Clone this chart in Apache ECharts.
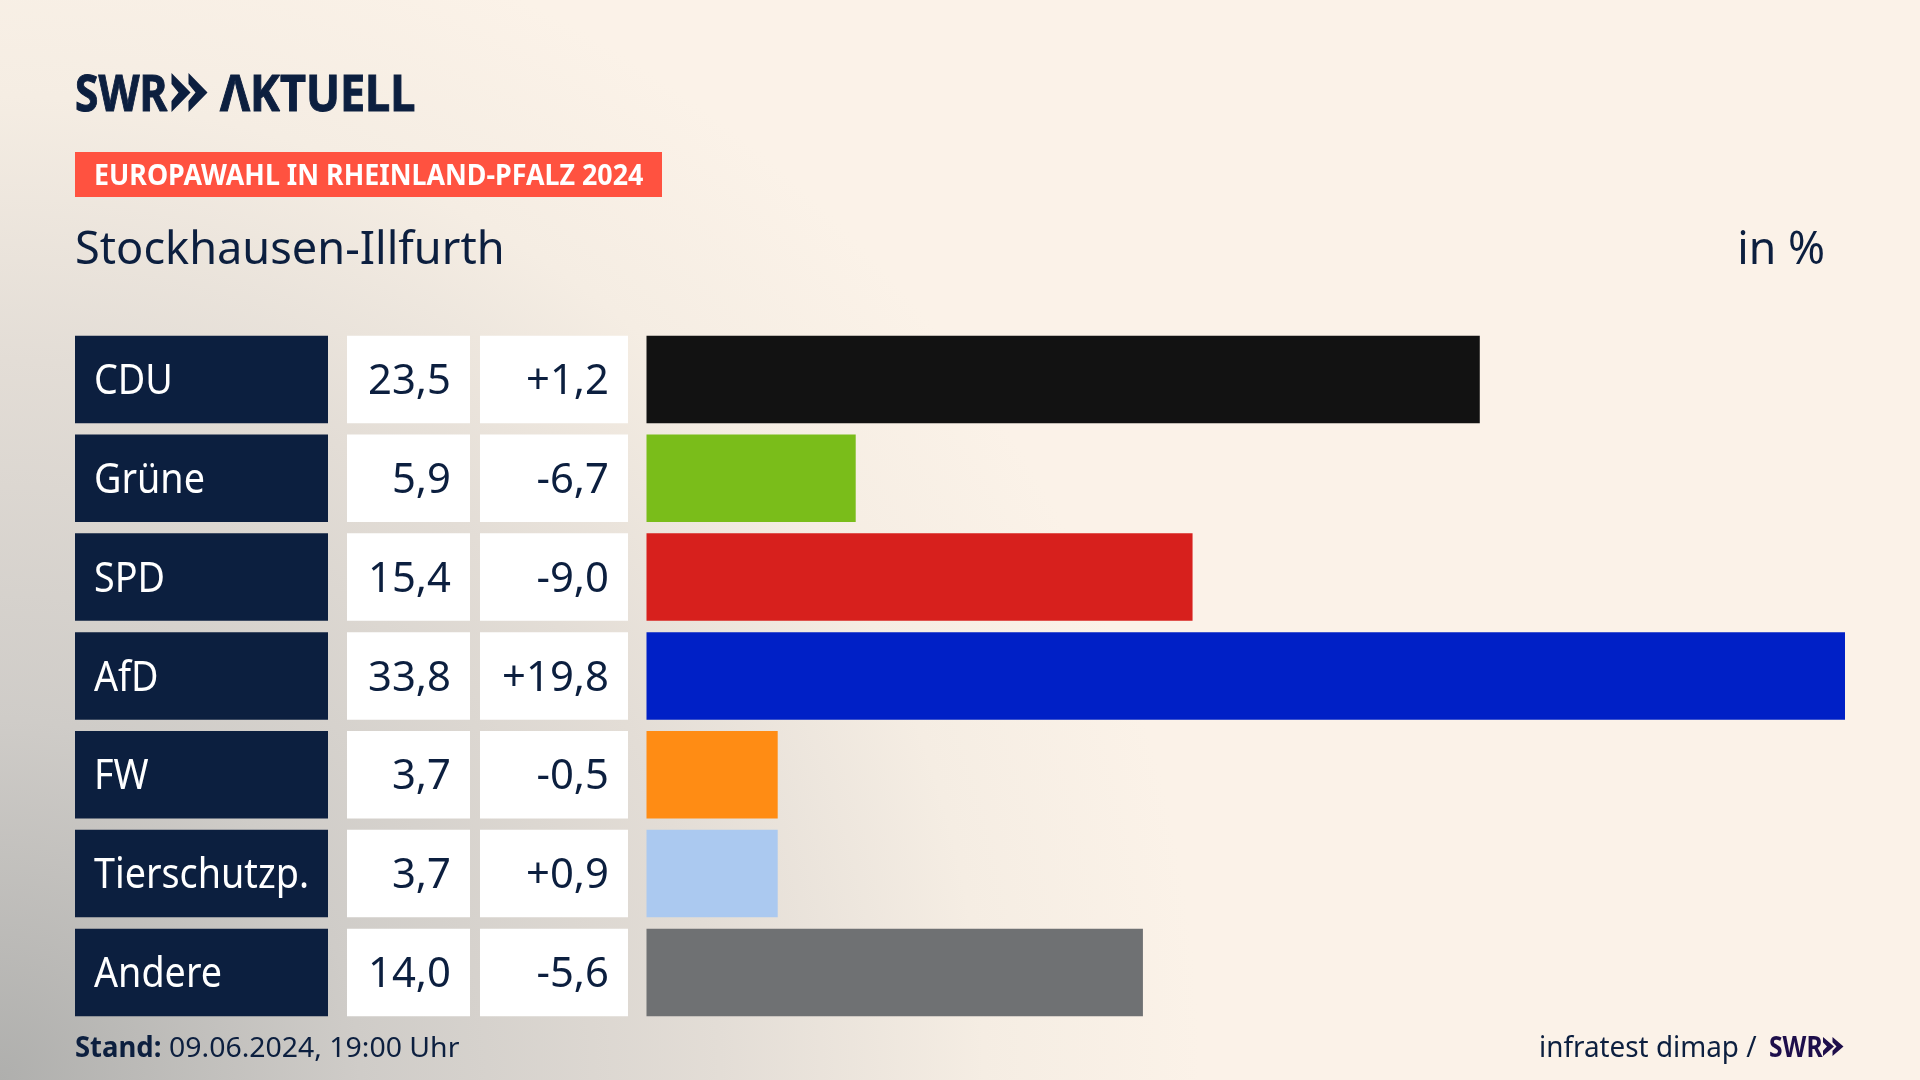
<!DOCTYPE html>
<html>
<head>
<meta charset="utf-8">
<title>Europawahl Stockhausen-Illfurth</title>
<style>
	html, body { margin: 0; padding: 0; width: 100%; height: 100%; overflow: hidden; background: #FBF2E8; }
	#chart { width: 1920px; height: 1080px; }
</style>
<script src="https://cdn.jsdelivr.net/npm/echarts@6/dist/echarts.min.js"></script>
</head>
<body>
<div id="chart"></div>
<script>
	var categories = ['CDU', 'Grüne', 'SPD', 'AfD', 'FW', 'Tierschutzp.', 'Andere'];
	var shares = [23.5, 5.9, 15.4, 33.8, 3.7, 3.7, 14.0];
	var changes = [1.2, -6.7, -9.0, 19.8, -0.5, 0.9, -5.6];
	var partyColors = ['#121212', '#7ABD1A', '#D7201D', '#0020C6', '#FF8C14', '#ABC9F0', '#6F7173'];

	var NAVY = '#0C1F3F';
	var PURPLE = '#1E0F4B';
	var FONT = "'Noto Sans'";
	var chart = echarts.init(document.getElementById('chart'));

	function comma(v) {
		return v.toFixed(1).replace('.', ',');
	}
	function signed(v) {
		return (v > 0 ? '+' : '') + comma(v);
	}

	// one table column: a rect per row with condensed text inside
	function columnSeries(gridIndex, texts, fill, color, align, scaleX) {
		return {
			type: 'custom',
			xAxisIndex: gridIndex,
			yAxisIndex: gridIndex,
			silent: true,
			data: texts.map(function (t, i) { return [0, i]; }),
			encode: { x: 0, y: 1 },
			renderItem: function (params, api) {
				var cs = params.coordSys;
				var cy = api.coord([0, api.value(1)])[1];
				var tx = align === 'left' ? cs.x + 19 : cs.x + cs.width - 19;
				return {
					type: 'group',
					children: [{
						type: 'rect',
						shape: { x: cs.x, y: cy - 43.75, width: cs.width, height: 87.5 },
						style: { fill: fill }
					}, {
						type: 'text',
						x: tx,
						y: cy + 3,
						scaleX: scaleX,
						style: {
							text: texts[params.dataIndex],
							font: '400 41px ' + FONT,
							fill: color,
							textAlign: align,
							verticalAlign: 'middle'
						}
					}]
				};
			}
		};
	}

	function chevron(x, y, w, h, n, color) {
		var mid = y + h / 2;
		return {
			type: 'polygon',
			shape: { points: [[x, y], [x + w, mid], [x, y + h], [x, y + h * 0.72], [x + n, mid], [x, y + h * 0.28]] },
			style: { fill: color }
		};
	}
	function label(text, x, y, font, color, scaleX, align) {
		return {
			type: 'text',
			x: x,
			y: y,
			scaleX: scaleX,
			style: { text: text, font: font, fill: color, textAlign: align || 'left', verticalAlign: 'middle' }
		};
	}

	var rowTop = 330, rowsHeight = 691.8;
	var columns = [[75, 253], [347, 123], [480, 148]];
	var grids = [], xAxes = [], yAxes = [];
	columns.concat([[646.5, 1198.5]]).forEach(function (c, i) {
		grids.push({ left: c[0], top: rowTop, width: c[1], height: rowsHeight });
		xAxes.push({ type: 'value', gridIndex: i, min: 0, max: i === 3 ? 33.8 : 1, show: false });
		yAxes.push({ type: 'category', gridIndex: i, inverse: true, data: categories, show: false });
	});

	var logoSwr = label('SWR', 75, 96.5, '700 50px ' + FONT, NAVY, 0.85);
	logoSwr.style.stroke = NAVY;
	logoSwr.style.lineWidth = 1;
	var logoWord = label('ΛKTUELL', 220, 96.5, '700 50px ' + FONT, NAVY, 0.9);
	logoWord.style.stroke = NAVY;
	logoWord.style.lineWidth = 1;

	var option = {
		animation: false,
		backgroundColor: '#FBF2E8',
		grid: grids,
		xAxis: xAxes,
		yAxis: yAxes,
		graphic: {
			elements: [
				{
					type: 'rect',
					z: -10,
					shape: { x: 0, y: 0, width: 1920, height: 1080 },
					style: {
						fill: {
							type: 'radial', x: 0, y: 1080, r: 1200, global: true,
							colorStops: [
								{ offset: 0, color: '#AFAFAD' },
								{ offset: 0.3, color: '#CFCCC8' },
								{ offset: 0.6, color: '#E3DDD6' },
								{ offset: 0.82, color: '#F5EDE3' },
								{ offset: 1, color: '#FBF2E8' }
							]
						}
					}
				},
				logoSwr,
				chevron(171.5, 73, 19, 39, 7, NAVY),
				chevron(188.5, 73, 19, 39, 7, NAVY),
				logoWord,
				{
					type: 'rect',
					shape: { x: 75, y: 152, width: 587, height: 45 },
					style: { fill: '#FF5240' }
				},
				label('EUROPAWAHL IN RHEINLAND-PFALZ 2024', 94, 177, '700 29px ' + FONT, '#FFFFFF', 0.925),
				label('Stockhausen-Illfurth', 75, 251, '400 45px ' + FONT, NAVY, 1.003),
				label('in %', 1825, 251, '400 45px ' + FONT, NAVY, 0.99, 'right'),
				label('Stand:', 75, 1049.5, '700 28px ' + FONT, NAVY, 0.98),
				label('09.06.2024, 19:00 Uhr', 169, 1049.5, '400 28px ' + FONT, NAVY, 1.015),
				label('infratest dimap /', 1539, 1048.5, '400 29px ' + FONT, NAVY, 0.96),
				label('SWR', 1769, 1048.5, '700 29px ' + FONT, PURPLE, 0.85),
				chevron(1823, 1037, 11, 19, 4, PURPLE),
				chevron(1832.5, 1037, 11, 19, 4, PURPLE)
			]
		},
		series: [
			columnSeries(0, categories, NAVY, '#FFFFFF', 'left', 0.92),
			columnSeries(1, shares.map(comma), '#FFFFFF', NAVY, 'right', 1.02),
			columnSeries(2, changes.map(signed), '#FFFFFF', NAVY, 'right', 1.02),
			{
				type: 'bar',
				xAxisIndex: 3,
				yAxisIndex: 3,
				barWidth: 87.5,
				silent: true,
				data: shares.map(function (v, i) {
					return { value: v, itemStyle: { color: partyColors[i] } };
				})
			}
		]
	};

	chart.setOption(option);
</script>
</body>
</html>
